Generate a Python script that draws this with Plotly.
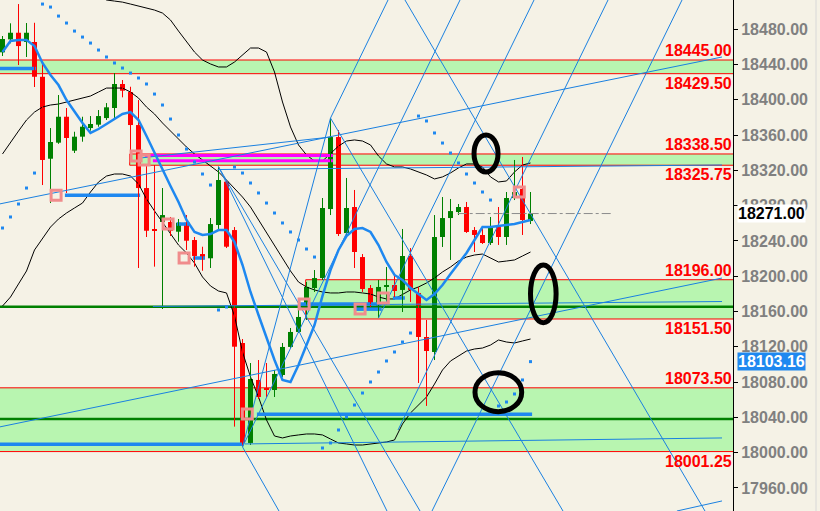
import plotly.graph_objects as go

# ---------------- data ----------------
idx = list(range(67))
opens = [18453.7, 18468.4, 18475.9, 18465.4, 18465.4, 18426.0, 18333.1, 18351.3, 18380.7, 18342.2,
         18358.1, 18367.9, 18371.7, 18379.2, 18390.6, 18417.8, 18408.7, 18371.3, 18299.9, 18253.1,
         18261.4, 18261.4, 18250.4, 18260.6, 18241.0, 18225.1, 18220.3, 18258.0, 18307.1, 18252.3,
         18124.3, 18011.0, 18082.4, 18073.3, 18071.0, 18088.0, 18119.8, 18136.8, 18168.5, 18186.6,
         18197.9, 18276.1, 18357.7, 18248.9, 18278.4, 18221.7, 18186.6, 18165.1, 18187.8, 18190.0,
         18184.4, 18222.9, 18181.0, 18131.1, 18114.1, 18244.4, 18265.9, 18272.7, 18278.4, 18252.3,
         18246.7, 18237.6, 18255.7, 18244.4, 18288.6, 18298.8, 18262.5]
highs = [18472.2, 18486.6, 18508.4, 18486.9, 18487.2, 18441.6, 18367.9, 18405.3, 18390.6, 18363.7,
         18380.7, 18381.5, 18388.3, 18396.2, 18430.2, 18422.3, 18414.7, 18399.6, 18326.0, 18326.0,
         18299.9, 18267.1, 18264.8, 18269.3, 18244.4, 18233.4, 18265.9, 18324.1, 18309.0, 18255.7,
         18128.8, 18101.6, 18105.0, 18101.6, 18093.7, 18124.3, 18141.3, 18161.7, 18193.4, 18207.0,
         18288.6, 18379.2, 18365.6, 18311.3, 18297.7, 18225.1, 18190.0, 18195.7, 18210.4, 18201.3,
         18253.5, 18231.9, 18187.8, 18150.4, 18269.3, 18289.7, 18287.5, 18281.8, 18284.1, 18255.7,
         18255.7, 18267.1, 18278.4, 18295.4, 18331.7, 18335.1, 18295.4]
lows = [18449.5, 18463.9, 18439.3, 18448.4, 18414.4, 18303.3, 18282.9, 18350.0, 18294.3, 18339.6,
        18352.4, 18364.9, 18369.4, 18377.0, 18377.0, 18402.7, 18343.0, 18209.3, 18244.4, 18210.8,
        18162.8, 18245.5, 18239.1, 18229.7, 18210.8, 18206.2, 18209.3, 18252.3, 18231.9, 18029.5,
        18006.5, 18008.7, 18060.8, 18063.1, 18063.1, 18085.8, 18118.6, 18135.6, 18150.4, 18182.1,
        18195.7, 18269.3, 18245.5, 18244.4, 18209.3, 18182.1, 18165.1, 18152.6, 18167.4, 18176.4,
        18159.4, 18170.8, 18079.0, 18053.0, 18105.0, 18233.1, 18218.4, 18269.3, 18249.0, 18227.4,
        18236.5, 18235.4, 18235.4, 18235.4, 18286.3, 18246.7, 18259.1]
closes = [18468.8, 18475.9, 18460.8, 18475.9, 18426.0, 18331.7, 18352.1, 18380.7, 18356.6, 18358.1,
          18369.4, 18372.5, 18381.5, 18391.4, 18417.8, 18410.2, 18371.3, 18299.9, 18251.5, 18251.5,
          18269.3, 18251.5, 18260.6, 18240.2, 18222.9, 18219.1, 18259.1, 18309.0, 18233.4, 18120.1,
          18011.0, 18083.5, 18063.1, 18071.0, 18089.2, 18119.8, 18136.8, 18153.8, 18187.8, 18197.9,
          18277.3, 18357.7, 18247.8, 18277.3, 18227.4, 18185.5, 18169.6, 18187.8, 18190.0, 18183.2,
          18222.9, 18184.4, 18131.1, 18115.2, 18244.4, 18265.9, 18273.8, 18278.4, 18250.1, 18246.7,
          18237.6, 18254.6, 18244.4, 18288.6, 18295.4, 18263.7, 18271.0]

ma_blue = [18454.0, 18466.5, 18467.6, 18467.6, 18460.8, 18441.6, 18428.0, 18416.6, 18399.6, 18386.0,
           18373.6, 18362.3, 18366.8, 18372.5, 18378.1, 18383.8, 18386.0, 18377.0, 18358.9, 18339.6,
           18320.3, 18302.2, 18284.1, 18263.7, 18250.1, 18246.7, 18247.8, 18252.3, 18252.3, 18238.7,
           18212.7, 18182.1, 18156.0, 18130.0, 18105.0, 18082.4, 18080.1, 18099.4, 18122.0, 18144.7,
           18177.6, 18207.0, 18229.7, 18245.5, 18253.5, 18254.6, 18250.1, 18235.3, 18216.1, 18201.4,
           18195.7, 18186.6, 18179.8, 18173.0, 18179.8, 18190.0, 18202.5, 18215.0, 18226.3, 18241.0,
           18255.7, 18255.7, 18256.9, 18258.0, 18259.1, 18261.4, 18263.7]

band_upper = [None] * 12 + [
    18517.5, 18513.0, 18511.8, 18510.6, 18508.4, 18506.1, 18503.9, 18501.6,
    18498.2, 18490.3, 18477.8, 18465.4, 18454.0, 18445.0, 18440.5, 18437.1, 18437.1, 18442.7,
    18450.6, 18458.6, 18458.6, 18454.0, 18431.4, 18397.4, 18369.1, 18348.7, 18337.4, 18330.5,
    18330.5, 18338.5, 18347.5, 18353.2, 18354.4, 18353.2, 18348.7, 18336.2, 18327.2, 18323.8,
    18323.8, 18321.5, 18318.1, 18314.7, 18310.2, 18312.5, 18317.0, 18322.7, 18327.2, 18327.2,
    18323.8, 18312.5, 18306.8, 18307.9, 18318.1, 18326.0, 18328.3]
band_mid = [18338.5, 18352.1, 18364.5, 18377.0, 18386.0, 18391.7, 18394.0, 18395.1, 18397.4, 18399.6,
            18401.9, 18404.2, 18408.7, 18413.2, 18413.2, 18413.2, 18408.7, 18401.9, 18391.7, 18383.8,
            18373.6, 18364.5, 18355.5, 18346.4, 18338.5, 18331.7, 18324.9, 18318.1, 18309.0, 18299.9,
            18289.7, 18278.4, 18263.7, 18250.1, 18234.2, 18219.5, 18205.9, 18193.4, 18187.8, 18184.4,
            18182.1, 18181.0, 18181.0, 18182.1, 18182.1, 18181.0, 18179.8, 18176.4, 18174.2, 18174.2,
            18179.8, 18184.4, 18187.8, 18192.3, 18197.9, 18204.8, 18210.4, 18217.2, 18221.7, 18224.0,
            18225.1, 18220.6, 18216.1, 18217.2, 18218.4, 18222.9, 18227.4]
band_lower = [18166.2, 18176.4, 18191.2, 18205.9, 18229.7, 18243.3, 18255.7, 18264.8, 18271.6, 18277.3,
              18282.9, 18295.4, 18306.7, 18313.5, 18315.8, 18315.8, 18313.5, 18304.5, 18287.5, 18273.9,
              18261.4, 18247.8, 18235.3, 18226.3, 18214.9, 18199.1, 18188.9, 18183.2, 18181.0, 18154.9,
              18114.1, 18085.8, 18063.1, 18037.1, 18018.9, 18016.7, 18018.9, 18020.1, 18021.2, 18021.2,
              18020.1, 18015.5, 18011.0, 18009.9, 18008.7, 18008.7, 18009.9, 18011.0, 18012.1, 18014.4,
              18032.5, 18045.0, 18054.0, 18063.1, 18077.8, 18093.7, 18103.9, 18109.6, 18115.2, 18117.5,
              18118.6, 18122.0, 18127.7, 18125.4, 18124.3, 18126.6, 18128.8]
sar = [18254.6, 18267.1, 18281.8, 18299.9, 18316.9, 18508.4, 18505.0, 18494.8, 18486.9, 18477.8,
       18471.0, 18464.2, 18456.3, 18448.4, 18441.6, 18435.9, 18430.2, 18424.6, 18417.8, 18406.4,
       18394.0, 18378.1, 18360.0, 18344.1, 18329.4, 18315.8, 18303.3, 18161.7, 18165.1, 18323.7,
       18316.9, 18305.6, 18294.3, 18282.9, 18271.6, 18260.3, 18250.1, 18241.0, 18230.8, 18221.7,
       18005.3, 18011.0, 18025.7, 18040.5, 18054.0, 18067.6, 18080.1, 18091.4, 18103.9, 18114.1,
       18125.4, 18135.6, 18381.5, 18375.9, 18362.3, 18350.9, 18339.6, 18328.3, 18315.8, 18305.6,
       18295.4, 18286.3, 18052.9, 18057.4, 18066.5, 18082.4, 18103.16]

# support / resistance zones
zone_lo = [18429.50, 18325.75, 18151.50, 18001.25]
zone_hi = [18445.00, 18338.50, 18196.00, 18073.50]
zone_start = [-1.0, 15.9, 37.9, -1.0]
zone_labels_hi = ["18445.00", "18338.50", "18196.00", "18073.50"]
zone_labels_lo = ["18429.50", "18325.75", "18151.50", "18001.25"]

green_levels = [18165.4, 18038.2]

# thick blue horizontal segments
seg_x0 = [-1.0, 7.8, -1.0, 31.8, 37.2, 48.8, 21.8, 23.8, 44.1]
seg_x1 = [4.2, 17.2, 30.1, 66.2, 47.4, 50.3, 23.4, 25.3, 47.4]
seg_y = [18435.5, 18291.8, 18009.5, 18043.5, 18168.5, 18175.3, 18259.1, 18220.6, 18162.6]

# magenta segments
mag_x0 = [17.8, 18.8]
mag_x1 = [41.3, 41.3]
mag_y = [18336.8, 18330.9]

# pink square markers
sq_x = [6.7, 16.7, 17.7, 20.7, 22.7, 30.6, 37.7, 44.7, 47.6, 64.6]
sq_y = [18291.8, 18336.2, 18331.7, 18259.1, 18220.6, 18043.9, 18168.5, 18162.9, 18175.3, 18295.4]

# thin blue trend / fan lines (x0, y0) -> (x1, y1)
tl_x0 = [-0.4, -0.4, 84.3, 26.9, 18.8, 30.3, 17.2, 30.0, 27.0, 27.0, 41.0, 50.31, 30.0, 41.0, 30.0, 47.0, 49.44, 53.69]
tl_y0 = [18281.8, 18029.1, 17933.9, 18320.9, 18165.7, 18009.9, 18333.9, 18006.5, 18324.1, 18324.1, 18379.2, 18513.0,
         18006.5, 18379.2, 18006.5, 18152.6, 18025.7, 17933.9]
tl_x1 = [89.94, 89.94, 89.94, 89.94, 89.94, 89.94, 41.0, 41.0, 52.19, 48.06, 70.06, 87.81, 34.56, 48.19, 57.19, 66.44, 75.69, 84.94]
tl_y1 = [18448.4, 18197.9, 17945.3, 18326.0, 18171.3, 18016.7, 18357.7, 18379.2, 17933.9, 17933.9, 17933.9, 17933.9,
         17933.9, 18513.0, 18513.0, 18513.0, 18513.0, 18513.0]

# dash-dot price line
dash_x = [56.9, 76.1]
dash_y = 18271.0

# hand-drawn ellipses
ell_x0 = [58.94, 66.0, 59.06]
ell_x1 = [61.94, 69.2, 64.9]
ell_y0 = [18318.1, 18147.3, 18046.5]
ell_y1 = [18360.0, 18212.7, 18090.6]

tick_vals = [17960, 18000, 18040, 18080, 18120, 18160, 18200, 18240, 18280, 18320, 18360, 18400, 18440, 18480]
tick_text = ["17960.00", "18000.00", "18040.00", "18080.00", "18120.00", "18160.00", "18200.00",
             "18240.00", "18280.00", "18320.00", "18360.00", "18400.00", "18440.00", "18480.00"]
last_price = 18271.00
sar_last = 18103.16

# ---------------- styles ----------------
BG = "#f5f2e6"
ZONE = "#b8f5b0"
GREEN = "#008000"
RED = "#ff0000"
BLUE = "#1e88f0"
THIN = "#1a80e0"
FONT = "Liberation Sans"

fig = go.Figure()

for lo, hi, x0 in zip(zone_lo, zone_hi, zone_start):
    fig.add_shape(type="rect", xref="x", yref="y", x0=x0, x1=93, y0=lo, y1=hi,
                  fillcolor=ZONE, line=dict(color=RED, width=1), layer="below")

# green levels
for lv in green_levels:
    fig.add_trace(go.Scatter(x=[-1, 93], y=[lv, lv], mode="lines",
                             line=dict(color=GREEN, width=2.5), hoverinfo="skip"))

# black bands
for band in (band_upper, band_mid, band_lower):
    fig.add_trace(go.Scatter(x=idx, y=band, mode="lines", line=dict(color="black", width=1),
                             hoverinfo="skip", connectgaps=False))

# thick blue segments
sx, sy = [], []
for a, b, v in zip(seg_x0, seg_x1, seg_y):
    sx += [a, b, None]
    sy += [v, v, None]
fig.add_trace(go.Scatter(x=sx, y=sy, mode="lines", line=dict(color=BLUE, width=3.5), hoverinfo="skip"))

# magenta
mx, my = [], []
for a, b, v in zip(mag_x0, mag_x1, mag_y):
    mx += [a, b, None]
    my += [v, v, None]
fig.add_trace(go.Scatter(x=mx, y=my, mode="lines", line=dict(color="#ff00ff", width=3), hoverinfo="skip"))

# candles: wicks + bodies
for up, col in ((True, GREEN), (False, RED)):
    wx, wy = [], []
    bx, bb, bh = [], [], []
    for i, o, h, l, c in zip(idx, opens, highs, lows, closes):
        if (c > o) == up:
            wx += [i, i, None]
            wy += [l, h, None]
            bx.append(i)
            bb.append(min(o, c))
            bh.append(max(abs(c - o), 0.9))
    fig.add_trace(go.Scatter(x=wx, y=wy, mode="lines", line=dict(color=col, width=1), hoverinfo="skip"))
    fig.add_trace(go.Bar(x=bx, y=bh, base=bb, width=0.62, marker=dict(color=col, line=dict(width=0)),
                         hoverinfo="skip"))

# thin lines
tx, ty = [], []
for a, b, c, d in zip(tl_x0, tl_y0, tl_x1, tl_y1):
    tx += [a, c, None]
    ty += [b, d, None]
fig.add_trace(go.Scatter(x=tx, y=ty, mode="lines", line=dict(color=THIN, width=1), hoverinfo="skip"))

# moving average
fig.add_trace(go.Scatter(x=idx, y=ma_blue, mode="lines", line=dict(color=BLUE, width=2.5), hoverinfo="skip"))

# SAR dots
fig.add_trace(go.Scatter(x=idx, y=sar, mode="markers",
                         marker=dict(symbol="square", size=3, color=BLUE, line=dict(width=0)), hoverinfo="skip"))

# pink squares
fig.add_trace(go.Scatter(x=sq_x, y=sq_y, mode="markers",
                         marker=dict(symbol="square-open", size=10, color="#f08c8c",
                                     line=dict(width=3, color="#f08c8c")), hoverinfo="skip"))

# dash-dot line
fig.add_trace(go.Scatter(x=dash_x, y=[dash_y, dash_y], mode="lines",
                         line=dict(color="#8c8c8c", width=1, dash="dashdot"), hoverinfo="skip"))

# ellipses
for a, b, c, d in zip(ell_x0, ell_x1, ell_y0, ell_y1):
    fig.add_shape(type="circle", xref="x", yref="y", x0=a, x1=b, y0=c, y1=d,
                  line=dict(color="black", width=5), layer="above")

# separator on right panel
fig.add_shape(type="line", xref="paper", yref="paper", x0=816 / 733, x1=816 / 733, y0=0, y1=1,
              line=dict(color="#d8d8d8", width=1))

# red zone labels
for v, t in zip(zone_hi, zone_labels_hi):
    fig.add_annotation(x=1, xref="paper", y=v, yref="y", text=t, showarrow=False,
                       xanchor="right", yanchor="bottom", borderpad=0,
                       font=dict(family=FONT, size=16, color=RED, weight="bold"))
for v, t in zip(zone_lo, zone_labels_lo):
    fig.add_annotation(x=1, xref="paper", y=v, yref="y", text=t, showarrow=False,
                       xanchor="right", yanchor="top", borderpad=0,
                       font=dict(family=FONT, size=16, color=RED, weight="bold"))

# price boxes on axis
fig.add_annotation(x=737 / 733, xref="paper", y=last_price, yref="y", text=f"{last_price:.2f}",
                   showarrow=False, xanchor="left", yanchor="middle", bgcolor="white", borderpad=0,
                   font=dict(family=FONT, size=16, color="black", weight="bold"))
fig.add_annotation(x=737 / 733, xref="paper", y=sar_last, yref="y", text=f"{sar_last:.2f}",
                   showarrow=False, xanchor="left", yanchor="middle", bgcolor="#1e88f0", borderpad=0,
                   font=dict(family=FONT, size=16, color="white", weight="bold"))

fig.update_layout(
    width=820, height=511, autosize=False,
    margin=dict(l=0, r=87, t=0, b=0, autoexpand=False),
    paper_bgcolor=BG, plot_bgcolor=BG,
    showlegend=False, barmode="overlay",
    xaxis=dict(range=[-0.3125, 91.3125], visible=False, fixedrange=True),
    yaxis=dict(range=[17933.9, 18513.0], side="right", tickvals=tick_vals, ticktext=tick_text,
               ticks="outside", ticklen=4, tickcolor="black", showline=True, linecolor="black",
               linewidth=1, showgrid=False, zeroline=False, automargin=False,
               tickfont=dict(family=FONT, size=16, color="#808080", weight="bold")),
)

fig.write_html("out.html", config={"displayModeBar": False},
               post_script="document.body.style.margin='0';document.body.style.overflow='hidden';")
